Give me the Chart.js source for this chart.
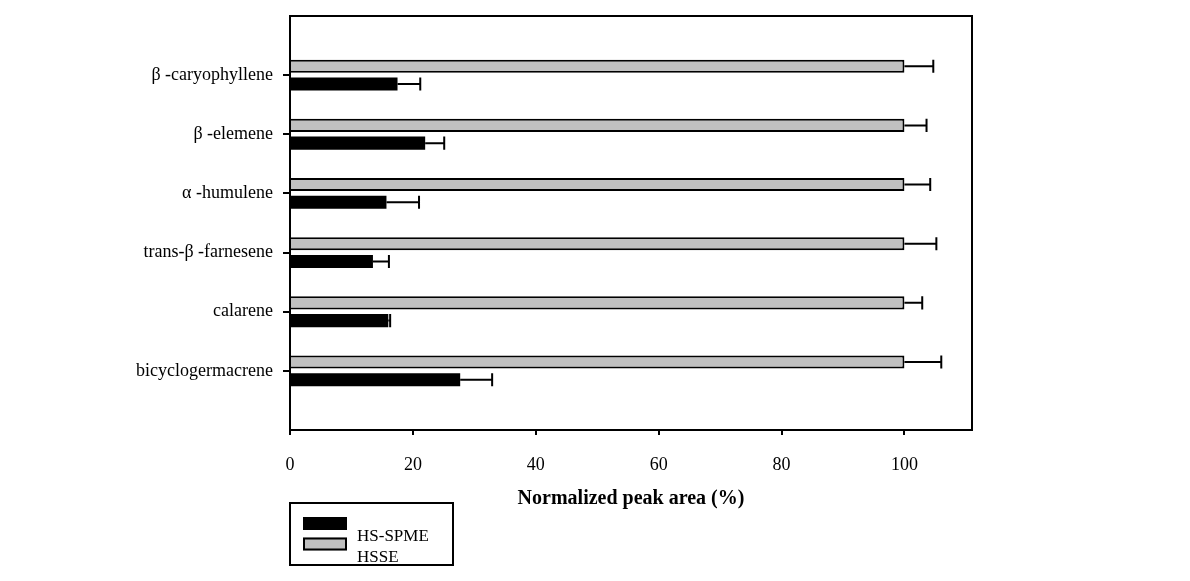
<!DOCTYPE html>
<html>
<head>
<meta charset="utf-8">
<script src="https://cdn.jsdelivr.net/npm/chart.js@4/dist/chart.umd.min.js"></script>
<style>
  body { margin: 0; background: #fff; }
  canvas { display: block; }
</style>
</head>
<body>
<canvas id="chart" width="1190" height="581"></canvas>
<script>
const categories = ["β -caryophyllene", "β -elemene", "α -humulene", "trans-β -farnesene", "calarene", "bicyclogermacrene"];
const hsseValues = [100, 100, 100, 100, 100, 100];
const hsseErrors = [4.7, 3.6, 4.2, 5.2, 2.9, 6.0];
const spmeValues = [17.5, 22.0, 15.7, 13.5, 16.0, 27.7];
const spmeErrors = [3.7, 3.1, 5.3, 2.6, 0.3, 5.2];
const xTicks = [0, 20, 40, 60, 80, 100];

const FONT = "'Liberation Serif', 'Times New Roman', serif";

// blank slot above and below so the category ticks sit like the original
const pad = (arr) => [null, ...arr, null];

const errorBars = {
  id: "errorBars",
  afterDatasetsDraw(chart) {
    const ctx = chart.ctx;
    const xs = chart.scales.x;
    ctx.save();
    ctx.strokeStyle = "#000";
    ctx.lineWidth = 2;
    chart.data.datasets.forEach((ds, di) => {
      const meta = chart.getDatasetMeta(di);
      meta.data.forEach((bar, i) => {
        const v = ds.data[i];
        const e = ds.errors[i];
        if (v == null || e == null) return;
        const xEnd = xs.getPixelForValue(v + e);
        const half = bar.height / 2;
        ctx.beginPath();
        ctx.moveTo(bar.x, bar.y);
        ctx.lineTo(xEnd, bar.y);
        ctx.moveTo(xEnd, bar.y - half);
        ctx.lineTo(xEnd, bar.y + half);
        ctx.stroke();
      });
    });
    ctx.restore();
  }
};

const frameAndLegend = {
  id: "frameAndLegend",
  afterDraw(chart) {
    const ctx = chart.ctx;
    const a = chart.chartArea;
    ctx.save();
    ctx.strokeStyle = "#000";
    ctx.lineWidth = 2;
    ctx.strokeRect(a.left, a.top, a.right - a.left, a.bottom - a.top);

    // legend box
    ctx.strokeRect(290, 503, 163, 62);
    const items = [chart.data.datasets[1], chart.data.datasets[0]];
    items.forEach((ds, k) => {
      const y = 517 + k * 20.5;
      ctx.fillStyle = ds.backgroundColor;
      ctx.fillRect(303, y, 44, 13);
      ctx.strokeRect(304, y + 1, 42, 11);
      ctx.fillStyle = "#000";
      ctx.font = "17px " + FONT;
      ctx.textBaseline = "alphabetic";
      ctx.fillText(ds.label, 357, 541 + k * 20.5);
    });
    ctx.restore();
  }
};

new Chart(document.getElementById("chart"), {
  type: "bar",
  data: {
    labels: ["", ...categories, ""],
    datasets: [
      {
        label: "HSSE",
        data: pad(hsseValues),
        errors: pad(hsseErrors),
        backgroundColor: "#c0c0c0",
        borderColor: "#000",
        borderWidth: 2,
        borderSkipped: "left"
      },
      {
        label: "HS-SPME",
        data: pad(spmeValues),
        errors: pad(spmeErrors),
        backgroundColor: "#000",
        borderColor: "#000",
        borderWidth: 0
      }
    ]
  },
  options: {
    indexAxis: "y",
    responsive: false,
    animation: false,
    categoryPercentage: 0.6,
    barPercentage: 0.74,
    layout: { padding: { top: 16, right: 218, left: 0, bottom: 0 } },
    plugins: {
      legend: { display: false },
      tooltip: { enabled: false }
    },
    scales: {
      x: {
        type: "linear",
        min: 0,
        max: 111,
        afterFit: (s) => { s.height = 151; },
        afterBuildTicks: (s) => { s.ticks = xTicks.map((v) => ({ value: v })); },
        border: { color: "#000", width: 2 },
        grid: { drawOnChartArea: false, tickLength: 5, color: "#000", lineWidth: 2 },
        ticks: {
          color: "#000",
          padding: 19,
          font: { family: FONT, size: 18 }
        },
        title: {
          display: true,
          text: "Normalized peak area (%)",
          color: "#000",
          font: { family: FONT, size: 20, weight: "bold" },
          padding: { top: 0, bottom: 70 }
        }
      },
      y: {
        type: "category",
        offset: false,
        afterFit: (s) => { s.width = 290; s.paddingTop = 0; s.paddingBottom = 0; },
        border: { color: "#000", width: 2 },
        grid: {
          offset: false,
          drawOnChartArea: false,
          tickLength: 7,
          lineWidth: 2,
          color: "#000",
          tickColor: (c) => (c.index === 0 || c.index === categories.length + 1 ? "rgba(0,0,0,0)" : "#000")
        },
        ticks: {
          color: "#000",
          padding: 10,
          autoSkip: false,
          font: { family: FONT, size: 18 }
        }
      }
    }
  },
  plugins: [errorBars, frameAndLegend]
});
</script>
</body>
</html>
